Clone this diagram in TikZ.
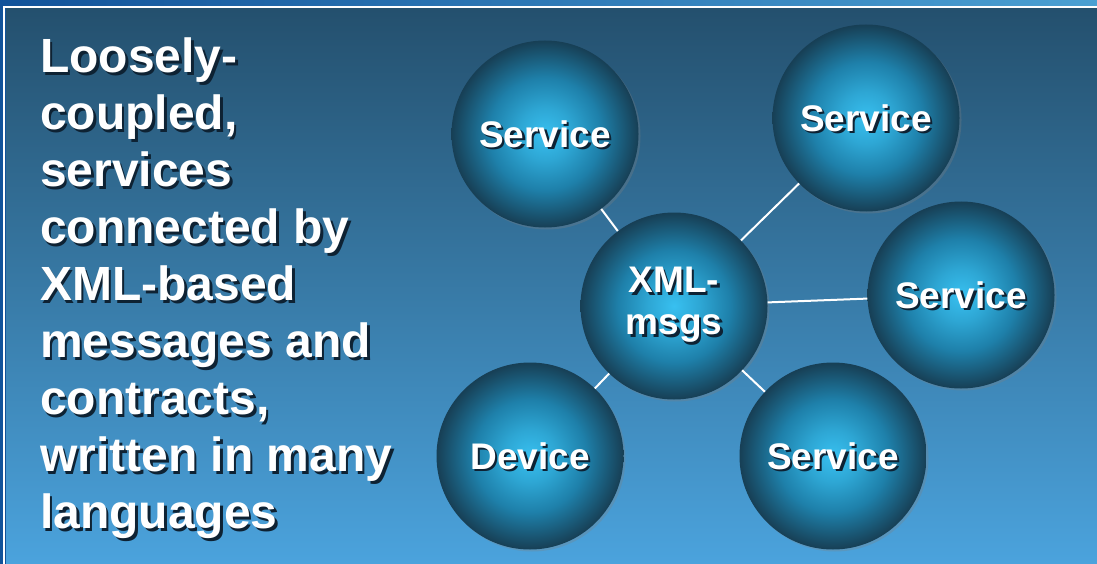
\documentclass[tikz,border=0pt]{standalone}
\usepackage{fontspec}
\setmainfont{Liberation Sans}
\usetikzlibrary{shadows}
\usepackage{xcolor}
\definecolor{bgtop}{HTML}{24506E}
\definecolor{bgbot}{HTML}{4BA3DD}
\definecolor{stripl}{HTML}{12539A}
\definecolor{stripr}{HTML}{4BA0D2}
\definecolor{ballin}{HTML}{38C0F0}
\definecolor{ballmid}{HTML}{1E80AA}
\definecolor{ballout}{HTML}{173F55}
\definecolor{txtshadow}{HTML}{0E2233}
\pgfdeclareradialshading{ball}{\pgfpoint{0bp}{0bp}}{color(0bp)=(ballin); color(7bp)=(ballin!60!ballmid); color(15bp)=(ballmid); color(21bp)=(ballout!60!ballmid); color(25bp)=(ballout); color(50bp)=(ballout)}
\newcommand\shtxt[1]{\rlap{\kern2.5pt\raisebox{-2.5pt}{\color{txtshadow}#1}}#1}

\begin{document}
\begin{tikzpicture}[x=1pt,y=-1pt,
    ball/.style={circle,minimum size=187pt,inner sep=0pt,shading=ball,
      drop shadow={opacity=0.3,shadow xshift=2pt,shadow yshift=-2pt},
      text=white,font=\bfseries\fontsize{37}{42}\selectfont,align=center},
    link/.style={draw=white,line width=2pt}]
    \useasboundingbox (0,0) rectangle (1097,564);
    % backdrop and frame
    \shade[left color=stripl,right color=stripr] (0,0) rectangle (1097,9);
    \fill[stripl] (0,0) rectangle (6,564);
    \shade[top color=bgtop,bottom color=bgbot] (6,9) rectangle (1097,564);
    \draw[white,line width=2pt] (4,564) -- (4,7) -- (1097,7);
    % left text
    \node[anchor=north west,inner sep=0pt,align=left,text=white,
      font=\bfseries\fontsize{48}{57}\selectfont] (blurb) at (40,38)
      {\shtxt{Loosely-}\\\shtxt{coupled,}\\\shtxt{services}\\\shtxt{connected by}\\
       \shtxt{XML-based}\\\shtxt{messages and}\\\shtxt{contracts,}\\
       \shtxt{written in many}\\\shtxt{languages}};
    % the balls
    \node[ball] (xml) at (674,306) {\shtxt{XML-}\\\shtxt{msgs}};
    \node[ball,text depth=0pt] (svc1) at (545,134) {\shtxt{Service}};
    \node[ball,text depth=0pt] (svc2) at (866,118) {\shtxt{Service}};
    \node[ball,text depth=0pt] (svc3) at (961,295) {\shtxt{Service}};
    \node[ball,text depth=0pt] (svc4) at (833,456) {\shtxt{Service}};
    \node[ball,text depth=0pt] (dev) at (530,456) {\shtxt{Device}};
    \foreach \s in {svc1,svc2,svc3,svc4,dev}
      \draw[link] (xml) -- (\s);
  \end{tikzpicture}
\end{document}
